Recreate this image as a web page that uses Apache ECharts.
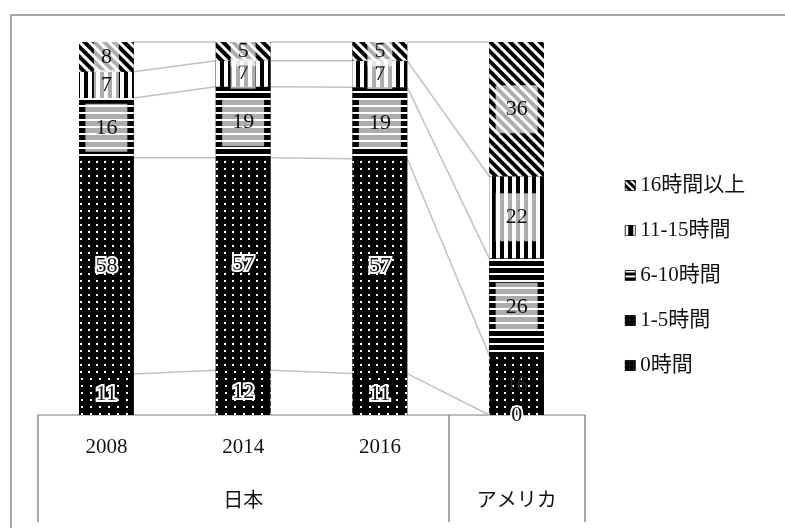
<!DOCTYPE html>
<html><head><meta charset="utf-8">
<script src="https://cdn.jsdelivr.net/npm/echarts@6/dist/echarts.min.js"></script>
<style>html,body{margin:0;padding:0;background:#fff}#c{width:785px;height:528px}</style>
</head><body><div id="c"></div>
<script>
// ---- data ----
const yearLabels = ['2008', '2014', '2016', ''];
const groupLabels = ['', '日本', '', 'アメリカ'];
const seriesNames = ['0時間', '1-5時間', '6-10時間', '11-15時間', '16時間以上'];
const v0h = [11, 12, 11, 0];
const v1to5 = [58, 57, 57, 16];
const v6to10 = [16, 19, 19, 26];
const v11to15 = [7, 7, 7, 22];
const v16plus = [8, 5, 5, 36];
const allValues = [v0h, v1to5, v6to10, v11to15, v16plus];

// ---- styling ----
const FONT = "'Liberation Serif','Noto Sans CJK JP',serif";
const BAR_RATIO = 0.4;
const decals = [
  {symbol: 'rect', symbolSize: 1, color: '#fff', backgroundColor: '#000', dashArrayX: [2, 7], dashArrayY: [2, 5]},
  {symbol: 'rect', symbolSize: 1, color: '#fff', backgroundColor: '#000', dashArrayX: [2, 6], dashArrayY: [2, 5]},
  {symbol: 'rect', symbolSize: 1, color: '#fff', backgroundColor: '#000', dashArrayX: [1, 0], dashArrayY: [2, 5]},
  {symbol: 'rect', symbolSize: 1, color: '#fff', backgroundColor: '#000', dashArrayX: [4, 4], dashArrayY: [1, 0]},
  {symbol: 'rect', symbolSize: 1, color: '#fff', backgroundColor: '#000', dashArrayX: [1, 0], dashArrayY: [3, 4], rotation: Math.PI / 4}
];
const legendDecals = [
  {symbol: 'rect', symbolSize: 1, color: '#777', backgroundColor: '#000', dashArrayX: [1, 3], dashArrayY: [1, 3]},
  {symbol: 'rect', symbolSize: 1, color: '#777', backgroundColor: '#000', dashArrayX: [1, 3], dashArrayY: [1, 3]},
  {symbol: 'rect', symbolSize: 1, color: '#fff', backgroundColor: '#000', dashArrayX: [1, 0], dashArrayY: [2, 3]},
  {symbol: 'rect', symbolSize: 1, color: '#fff', backgroundColor: '#000', dashArrayX: [3, 5], dashArrayY: [1, 0]},
  {symbol: 'rect', symbolSize: 1, color: '#fff', backgroundColor: '#000', dashArrayX: [1, 0], dashArrayY: [2, 3], rotation: Math.PI / 4}
];

// 100% stacked: normalise each column by its total
const totals = yearLabels.map((_, i) => allValues.reduce((s, arr) => s + arr[i], 0));
const pct = allValues.map(arr => arr.map((v, i) => v / totals[i] * 100));
const cum = [];
pct.forEach((arr, k) => cum.push(arr.map((v, i) => v + (k ? cum[k - 1][i] : 0))));

const barSeries = seriesNames.map((name, k) => {
  const dark = k < 2;
  return {
    name: name,
    type: 'bar',
    stack: 'total',
    barWidth: (BAR_RATIO * 100) + '%',
    itemStyle: {color: '#000', decal: decals[k]},
    label: {
      show: true,
      position: 'inside',
      fontFamily: FONT,
      fontSize: 22,
      lineHeight: 22,
      color: '#111',
      formatter: p => String(p.data.raw),
      textBorderColor: dark ? '#fff' : 'transparent',
      textBorderWidth: dark ? 4 : 0,
      backgroundColor: dark ? 'transparent' : 'rgba(255,255,255,0.68)'
    },
    data: pct[k].map((v, i) => {
      const raw = allValues[k][i];
      const item = {value: v, raw: raw};
      if (!dark) item.label = {padding: raw >= 10 ? [13, 10] : [4, 7]};
      if (k === 1 && i === 3) item.label = {textBorderWidth: 0, color: '#222'};
      return item;
    })
  };
});

// series lines connecting segment tops between neighbouring columns
const connData = [];
for (let i = 0; i < yearLabels.length - 1; i++) {
  for (let k = 0; k < seriesNames.length; k++) connData.push([i, cum[k][i], cum[k][i + 1]]);
}

const chart = echarts.init(document.getElementById('c'));
chart.setOption({
  animation: false,
  backgroundColor: '#fff',
  graphic: [{type: 'rect', left: 8.5, top: 12.5, shape: {width: 900, height: 700}, style: {fill: 'none', stroke: '#8c8c8c', lineWidth: 1.5}, silent: true}],
  grid: {left: 38, right: 200, top: 42, bottom: 113},
  legend: {
    orient: 'vertical', left: 620, top: 170,
    itemWidth: 10, itemHeight: 10, itemGap: 24,
    icon: 'rect',
    data: seriesNames.map((n, k) => ({name: n, itemStyle: {color: '#000', borderColor: '#000', borderWidth: 0.5, decal: legendDecals[k]}})).reverse(),
    textStyle: {fontFamily: FONT, fontSize: 21, color: '#111'}
  },
  xAxis: [{
    type: 'category', data: yearLabels,
    axisLine: {lineStyle: {color: '#a6a6a6', width: 1.5}},
    axisTick: {show: true, interval: (i) => i === 0 || i === 3, length: 107, lineStyle: {color: '#8c8c8c', width: 1.5}},
    axisLabel: {interval: 0, margin: 22, fontFamily: FONT, fontSize: 21, color: '#111'}
  }, {
    type: 'category', data: groupLabels, position: 'bottom',
    axisLine: {show: false}, axisTick: {show: false},
    axisLabel: {interval: 0, margin: 77, fontFamily: FONT, fontSize: 20, color: '#111'}
  }],
  yAxis: {type: 'value', min: 0, max: 100, show: false, splitLine: {show: false}},
  series: barSeries.concat([{
    type: 'custom',
    silent: true,
    z: 1,
    encode: {x: 0, y: 1},
    data: connData,
    renderItem: function (params, api) {
      const i = api.value(0);
      const a = api.coord([i, api.value(1)]);
      const b = api.coord([i + 1, api.value(2)]);
      const half = api.size([1, 0])[0] * BAR_RATIO / 2;
      return {type: 'line', shape: {x1: a[0] + half, y1: a[1], x2: b[0] - half, y2: b[1]}, style: {stroke: '#c0c0c0', lineWidth: 1.5}};
    }
  }])
});
</script></body></html>
